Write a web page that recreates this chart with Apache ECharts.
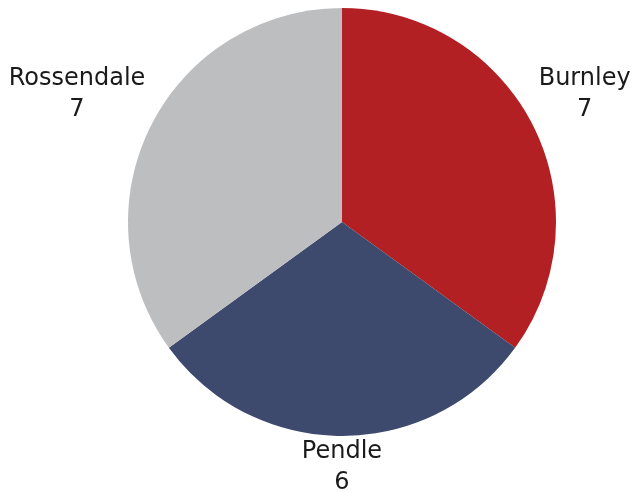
<!DOCTYPE html>
<html>
<head>
<meta charset="utf-8">
<script src="https://cdn.jsdelivr.net/npm/echarts@6/dist/echarts.min.js"></script>
<style>
  html, body { margin: 0; padding: 0; background: #ffffff; }
  #chart { width: 638px; height: 493px; }
</style>
</head>
<body>
<div id="chart"></div>
<script>
// Districts and their counts
const categories = ['Burnley', 'Pendle', 'Rossendale'];
const values = [7, 6, 7];
const colors = ['#B22024', '#3D4A6D', '#BDBEC0'];

const CENTER = [342, 222];
const RADIUS = 214;
const LABEL_GAP = 0;
const LABEL_GAP_X = 6;
const START_ANGLE = 90;

const total = values.reduce((a, b) => a + b, 0);
// Mid-angle (degrees, counter-clockwise from +x) of each slice, drawn clockwise from the top
const midAngles = [];
let acc = 0;
values.forEach(v => {
  const sweep = v / total * 360;
  midAngles.push(START_ANGLE - acc - sweep / 2);
  acc += sweep;
});

const chart = echarts.init(document.getElementById('chart'), null, { renderer: 'canvas' });
chart.setOption({
  animation: false,
  color: colors,
  series: [{
    type: 'pie',
    center: CENTER,
    radius: RADIUS,
    startAngle: START_ANGLE,
    clockwise: true,
    data: categories.map((name, i) => ({ name, value: values[i] })),
    itemStyle: { borderWidth: 0 },
    emphasis: { disabled: true },
    label: {
      show: true,
      position: 'outside',
      formatter: '{b}\n{c}',
      fontFamily: "'DejaVu Sans', Verdana, sans-serif",
      fontSize: 24,
      lineHeight: 31,
      color: '#1a1a1a',
      align: 'center',
      overflow: 'none',
      edgeDistance: 0
    },
    labelLine: { show: false },
    // Put each label box just outside the circle, its nearest corner on the slice's mid-ray
    labelLayout: function (params) {
      const a = midAngles[params.dataIndex] * Math.PI / 180;
      const ux = Math.cos(a), uy = -Math.sin(a);
      const w = params.labelRect.width, h = params.labelRect.height;
      const r = RADIUS + LABEL_GAP;
      const sx = Math.abs(ux) < 1e-6 ? 0 : Math.sign(ux);
      const sy = Math.abs(uy) < 1e-6 ? 0 : Math.sign(uy);
      return {
        x: CENTER[0] + ux * r + sx * (w / 2 + LABEL_GAP_X),
        y: CENTER[1] + uy * r + sy * h / 2,
        align: 'center',
        verticalAlign: 'middle'
      };
    }
  }]
});
</script>
</body>
</html>
